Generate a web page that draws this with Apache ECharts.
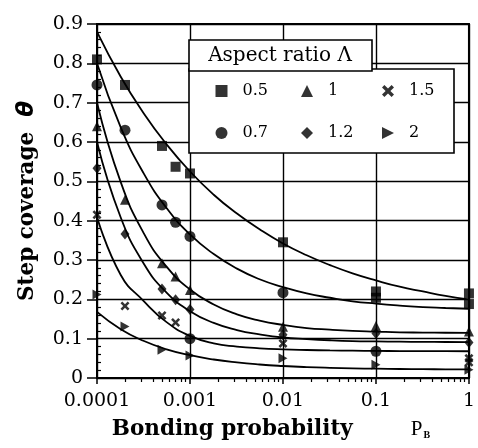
<!DOCTYPE html>
<html><head><meta charset="utf-8">
<script src="https://cdn.jsdelivr.net/npm/echarts@6/dist/echarts.min.js"></script>
<style>html,body{margin:0;padding:0;background:#fff}#c{width:478px;height:448px}</style>
</head><body><div id="c"></div>
<script>
// ---- data ----
const xTickLabels = ['0.0001', '0.001', '0.01', '0.1', '1'];
const yTickLabels = ['0', '0.1', '0.2', '0.3', '0.4', '0.5', '0.6', '0.7', '0.8', '0.9'];
const xMinorTicks = [0.0002,0.0003,0.0004,0.0005,0.0006,0.0007,0.0008,0.0009,
  0.002,0.003,0.004,0.005,0.006,0.007,0.008,0.009,
  0.02,0.03,0.04,0.05,0.06,0.07,0.08,0.09,
  0.2,0.3,0.4,0.5,0.6,0.7,0.8,0.9];

// measured points [P_B, theta]
const pts05 = [[0.0001,0.81],[0.0002,0.745],[0.0005,0.59],[0.0007,0.537],[0.001,0.52],[0.01,0.345],[0.1,0.22],[0.1,0.204],[1,0.215],[1,0.188]];
const pts07 = [[0.0001,0.745],[0.0002,0.63],[0.0005,0.44],[0.0007,0.396],[0.001,0.36],[0.01,0.217],[0.001,0.1],[0.1,0.068]];
const pts10 = [[0.0001,0.64],[0.0002,0.453],[0.0005,0.292],[0.0007,0.258],[0.001,0.224],[0.01,0.13],[0.1,0.132],[1,0.118]];
const pts12 = [[0.0001,0.533],[0.0002,0.366],[0.0005,0.226],[0.0007,0.199],[0.001,0.174],[0.01,0.11],[0.1,0.113],[1,0.09]];
const pts15 = [[0.0001,0.415],[0.0002,0.183],[0.0005,0.159],[0.0007,0.141],[0.01,0.088],[1,0.05],[1,0.04]];
const pts20 = [[0.0001,0.212],[0.0002,0.131],[0.0005,0.072],[0.001,0.057],[0.01,0.05],[0.1,0.034],[1,0.021]];

// fitted curves, read at these P_B values (quarter-decade steps)
const curveP = [0.0001,0.00018,0.00032,0.00056,0.001,0.0018,0.0032,0.0056,0.01,0.018,0.032,0.056,0.1,0.18,0.32,0.56,1];
const fit05 = [0.88,0.766,0.672,0.594,0.525,0.466,0.418,0.378,0.342,0.312,0.287,0.266,0.248,0.232,0.220,0.209,0.200];
const fit07 = [0.80,0.637,0.519,0.432,0.365,0.315,0.278,0.251,0.231,0.215,0.204,0.195,0.189,0.184,0.180,0.178,0.176];
const fit10 = [0.70,0.498,0.367,0.283,0.225,0.187,0.162,0.146,0.135,0.127,0.123,0.120,0.118,0.116,0.1155,0.115,0.1145];
const fit12 = [0.60,0.408,0.290,0.217,0.170,0.140,0.122,0.111,0.103,0.099,0.096,0.094,0.093,0.0923,0.0918,0.0915,0.0913];
const fit15 = [0.41,0.262,0.195,0.142,0.107,0.088,0.080,0.0755,0.0728,0.0712,0.0701,0.0694,0.0689,0.0685,0.0683,0.0681,0.068];
const fit20 = [0.168,0.124,0.094,0.073,0.058,0.047,0.0395,0.0343,0.0305,0.0277,0.0258,0.0245,0.0236,0.0229,0.0224,0.0221,0.0219];

// ---- build ----
const SERIF = 'DejaVu Serif';
const CROSS = 'path://M2,0 L5,3 L8,0 L10,2 L7,5 L10,8 L8,10 L5,7 L2,10 L0,8 L3,5 L0,2 Z';
const RTRI = 'path://M0,0 L10,5 L0,10 Z';
const marks = [
  {name:'0.5', data:pts05, fit:fit05, symbol:'rect', size:10},
  {name:'0.7', data:pts07, fit:fit07, symbol:'circle', size:11},
  {name:'1', data:pts10, fit:fit10, symbol:'triangle', size:10},
  {name:'1.2', data:pts12, fit:fit12, symbol:'diamond', size:[9,11]},
  {name:'1.5', data:pts15, fit:fit15, symbol:CROSS, size:9},
  {name:'2', data:pts20, fit:fit20, symbol:RTRI, size:[9,10]}
];
const series = [];
marks.forEach(m => {
  series.push({
    name: 'fit' + m.name, type: 'line', smooth: 0.5,
    showSymbol: false, symbol: 'none', silent: true, z: 2,
    lineStyle: {color: '#000', width: 1.8},
    data: curveP.map((p, i) => [p, m.fit[i]])
  });
});
marks.forEach(m => {
  series.push({
    name: m.name, type: 'scatter', symbol: m.symbol, symbolSize: m.size,
    itemStyle: {color: '#000'}, clip: false, z: 3, data: m.data
  });
});

function xLabel(v) {
  for (const s of xTickLabels) {
    if (Math.abs(Math.log10(v) - Math.log10(parseFloat(s))) < 1e-6) return s;
  }
  return '';
}
function yLabel(v) {
  const idx = Math.round(v * 10);
  return yTickLabels[idx] !== undefined ? yTickLabels[idx] : '';
}

const legendCommon = {
  orient: 'vertical', itemWidth: 12, itemHeight: 12, itemGap: 26, z: 20,
  selectedMode: false,
  textStyle: {fontFamily: SERIF, fontSize: 16, color: '#000', lineHeight: 16, padding: [0,0,0,10]}
};

const option = {
  backgroundColor: '#fff',
  animation: false,
  grid: {left: 97, right: 5, top: 24, bottom: 70, show: true, borderColor: '#000', borderWidth: 2, containLabel: false},
  xAxis: [{
    type: 'log', logBase: 10, min: 0.0001, max: 1,
    axisLine: {show: true, lineStyle: {color: '#000', width: 2}},
    axisTick: {show: true, length: 6, lineStyle: {color: '#000', width: 1.5}},
    splitLine: {show: true, lineStyle: {color: '#000', width: 1.4}},
    axisLabel: {formatter: xLabel, fontFamily: SERIF, fontSize: 19, color: '#000', margin: 14},
    name: '{t|Bonding probability}{g|}{p|P}{s|B}',
    nameLocation: 'middle', nameGap: 40,
    nameTextStyle: {
      padding: [0, 24, 0, 0],
      rich: {
        t: {fontFamily: SERIF, fontWeight: 'bold', fontSize: 21.5, color: '#000'},
        g: {width: 58},
        p: {fontFamily: 'Liberation Serif', fontSize: 21, color: '#000'},
        s: {fontFamily: 'Liberation Serif', fontWeight: 'bold', fontSize: 10, color: '#000', verticalAlign: 'bottom', padding: [8,0,0,1]}
      }
    }
  }, {
    type: 'log', logBase: 10, min: 0.0001, max: 1, position: 'bottom',
    axisLine: {show: false}, axisLabel: {show: false}, splitLine: {show: false},
    axisTick: {show: true, length: 4, customValues: xMinorTicks, lineStyle: {color: '#000', width: 1.2}}
  }],
  yAxis: [{
    type: 'value', min: 0, max: 0.9, interval: 0.1,
    axisLine: {show: true, lineStyle: {color: '#000', width: 2}},
    axisTick: {show: true, length: 10, lineStyle: {color: '#000', width: 1.5}},
    splitLine: {show: true, lineStyle: {color: '#000', width: 1.4}},
    axisLabel: {formatter: yLabel, fontFamily: SERIF, fontSize: 19, color: '#000', margin: 14},
    name: '{t|Step coverage  }{h|θ}',
    nameLocation: 'middle', nameGap: 58,
    nameTextStyle: {
      rich: {
        t: {fontFamily: SERIF, fontWeight: 'bold', fontSize: 21.5, color: '#000'},
        h: {fontFamily: 'DejaVu Sans', fontWeight: 'bold', fontStyle: 'italic', fontSize: 23, color: '#000'}
      }
    }
  }, {
    type: 'value', min: 0, max: 0.9, interval: 0.1, position: 'left',
    axisLine: {show: false}, axisLabel: {show: false}, splitLine: {show: false},
    axisTick: {show: false, inside: true},
    minorTick: {show: true, splitNumber: 5, length: 4, lineStyle: {color: '#000', width: 1.2}}
  }],
  legend: [
    Object.assign({}, legendCommon, {left: 210.5, top: 78, data: ['0.5', '0.7']}),
    Object.assign({}, legendCommon, {left: 296, top: 78, data: ['1', '1.2']}),
    Object.assign({}, legendCommon, {left: 377, top: 78, data: ['1.5', '2']})
  ],
  graphic: [
    {type: 'rect', z: 10, shape: {x: 189, y: 69, width: 265, height: 84},
      style: {fill: '#fff', stroke: '#000', lineWidth: 1.6}},
    {type: 'rect', z: 11, shape: {x: 189, y: 40, width: 183, height: 31},
      style: {fill: '#fff', stroke: '#000', lineWidth: 1.6}},
    {type: 'text', z: 12, x: 280, y: 56,
      style: {text: 'Aspect ratio Λ', fontFamily: SERIF, fontSize: 20, fill: '#000', align: 'center', verticalAlign: 'middle'}}
  ],
  series: series
};
const chart = echarts.init(document.getElementById('c'), null, {renderer: 'canvas'});
chart.setOption(option);
</script></body></html>
